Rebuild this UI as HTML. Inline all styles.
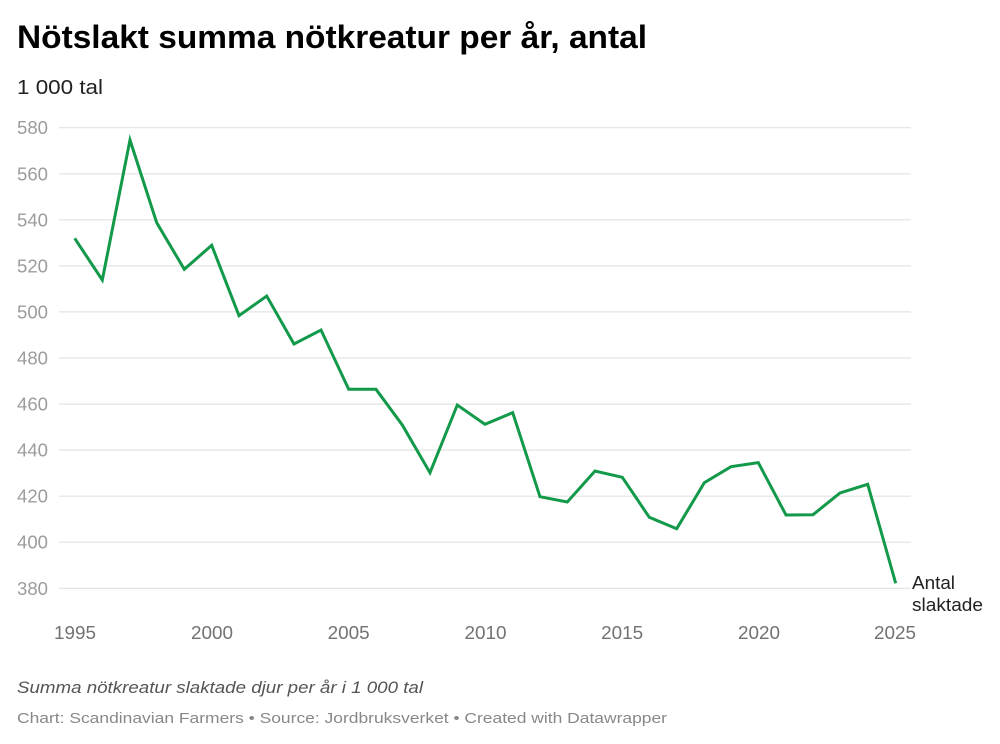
<!DOCTYPE html>
<html><head><meta charset="utf-8"><style>
html,body{margin:0;padding:0;background:#fff;}
svg{display:block;}
text{font-family:"Liberation Sans",Arial,sans-serif;}
</style></head><body>
<svg width="1000" height="744" viewBox="0 0 1000 744" xmlns="http://www.w3.org/2000/svg">
<rect width="1000" height="744" fill="#fff"/>
<text x="17" y="48" font-size="32" font-weight="bold" fill="#000" textLength="630" lengthAdjust="spacingAndGlyphs">Nötslakt summa nötkreatur per år, antal</text>
<text x="17" y="94" font-size="20" fill="#222" textLength="86" lengthAdjust="spacingAndGlyphs">1 000 tal</text>
<g stroke="#e3e3e3" stroke-width="1.2">
<line x1="59" x2="911" y1="127.7" y2="127.7"/>
<line x1="59" x2="911" y1="173.8" y2="173.8"/>
<line x1="59" x2="911" y1="219.8" y2="219.8"/>
<line x1="59" x2="911" y1="265.9" y2="265.9"/>
<line x1="59" x2="911" y1="311.9" y2="311.9"/>
<line x1="59" x2="911" y1="358" y2="358"/>
<line x1="59" x2="911" y1="404.1" y2="404.1"/>
<line x1="59" x2="911" y1="450.1" y2="450.1"/>
<line x1="59" x2="911" y1="496.2" y2="496.2"/>
<line x1="59" x2="911" y1="542.2" y2="542.2"/>
<line x1="59" x2="911" y1="588.3" y2="588.3"/>
</g>
<g font-size="18" fill="#9c9c9c">
<text x="17" y="134.2" textLength="31" lengthAdjust="spacingAndGlyphs">580</text>
<text x="17" y="180.3" textLength="31" lengthAdjust="spacingAndGlyphs">560</text>
<text x="17" y="226.3" textLength="31" lengthAdjust="spacingAndGlyphs">540</text>
<text x="17" y="272.4" textLength="31" lengthAdjust="spacingAndGlyphs">520</text>
<text x="17" y="318.4" textLength="31" lengthAdjust="spacingAndGlyphs">500</text>
<text x="17" y="364.5" textLength="31" lengthAdjust="spacingAndGlyphs">480</text>
<text x="17" y="410.6" textLength="31" lengthAdjust="spacingAndGlyphs">460</text>
<text x="17" y="456.6" textLength="31" lengthAdjust="spacingAndGlyphs">440</text>
<text x="17" y="502.7" textLength="31" lengthAdjust="spacingAndGlyphs">420</text>
<text x="17" y="548.7" textLength="31" lengthAdjust="spacingAndGlyphs">400</text>
<text x="17" y="594.8" textLength="31" lengthAdjust="spacingAndGlyphs">380</text>
</g>
<g font-size="18" fill="#727272">
<text x="54" y="639" textLength="42" lengthAdjust="spacingAndGlyphs">1995</text>
<text x="191" y="639" textLength="42" lengthAdjust="spacingAndGlyphs">2000</text>
<text x="327.7" y="639" textLength="42" lengthAdjust="spacingAndGlyphs">2005</text>
<text x="464.5" y="639" textLength="42" lengthAdjust="spacingAndGlyphs">2010</text>
<text x="601.2" y="639" textLength="42" lengthAdjust="spacingAndGlyphs">2015</text>
<text x="738" y="639" textLength="42" lengthAdjust="spacingAndGlyphs">2020</text>
<text x="874" y="639" textLength="42" lengthAdjust="spacingAndGlyphs">2025</text>
</g>
<polyline fill="none" stroke="#12994a" stroke-width="3" stroke-linejoin="miter" stroke-linecap="butt"
points="74.7,238.3 102.3,280 130,140 156.7,222.7 184.3,269.3 211.7,245.3 239,315.7 266.7,296 294,344 321,330 348.7,389.3 376,389.3 402.3,425 430,472.7 457.3,405 485,424.3 512.7,412.7 540,496.7 567.3,502 595,471 622.3,477.3 649.3,517.3 676.7,528.7 704.3,482.7 731,466.7 758.3,462.7 786,515 813,514.7 840,493 867.7,484.3 895.7,583.3"/>
<g font-size="18" fill="#222">
<text x="912" y="589" textLength="43" lengthAdjust="spacingAndGlyphs">Antal</text>
<text x="912" y="611" textLength="71" lengthAdjust="spacingAndGlyphs">slaktade</text>
</g>
<text x="17" y="693" font-size="17" font-style="italic" fill="#555" textLength="406" lengthAdjust="spacingAndGlyphs">Summa nötkreatur slaktade djur per år i 1 000 tal</text>
<text x="17" y="723" font-size="15" fill="#888" textLength="650" lengthAdjust="spacingAndGlyphs">Chart: Scandinavian Farmers • Source: Jordbruksverket • Created with Datawrapper</text>
</svg>
</body></html>
